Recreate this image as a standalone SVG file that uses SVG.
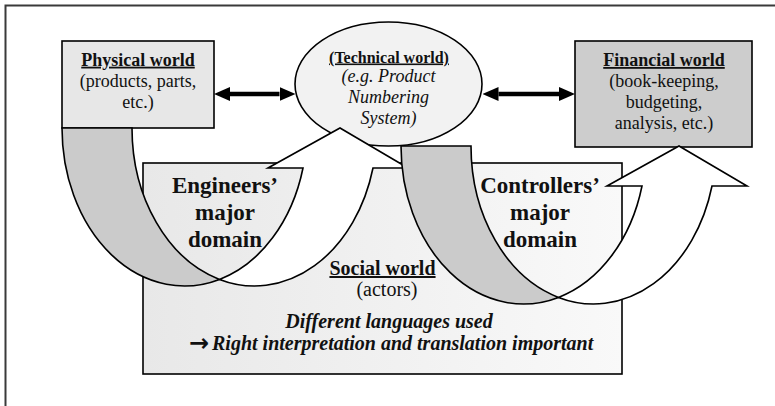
<svg xmlns="http://www.w3.org/2000/svg" width="775" height="406" viewBox="0 0 775 406">
  <defs>
    <linearGradient id="socialFill" x1="0" y1="0" x2="1" y2="0">
      <stop offset="0" stop-color="#e8e8e8"/>
      <stop offset="1" stop-color="#f9f9f9"/>
    </linearGradient>
    <marker id="head" viewBox="0 0 16 14" refX="0" refY="7" markerWidth="16" markerHeight="14" markerUnits="userSpaceOnUse" orient="auto-start-reverse">
      <path d="M0,0 L16,7 L0,14 Z" fill="#000"/>
    </marker>
    <style>
      .shape { stroke: #000; stroke-width: 1.6; stroke-linejoin: miter; }
      .back { fill: #cbcbcb; }
      .front { fill: #ffffff; }
      .t { font-family: "Liberation Serif", "Times New Roman", serif; fill: #111; text-anchor: middle; }
      .left { text-anchor: start; }
      .box { font-size: 18px; }
      .title { font-weight: bold; text-decoration: underline; }
      .it { font-style: italic; }
      .bi { font-style: italic; font-weight: bold; }
      .domain { font-size: 23px; font-weight: bold; }
      .social { font-size: 20px; }
      .sym { font-family: "DejaVu Sans", sans-serif; font-weight: bold; font-size: 24px; fill: #111; text-anchor: start; }
      .conn { stroke: #000; stroke-width: 4.3; fill: none; marker-start: url(#head); marker-end: url(#head); }
    </style>
  </defs>

  <rect width="775" height="406" fill="#ffffff"/>

  <!-- outer frame (top and left edges) -->
  <path d="M5.5,406 V5.5 H775" fill="none" stroke="#3a3a3a" stroke-width="2"/>

  <!-- social world box, behind the two curved arrows -->
  <g id="social-world">
    <rect class="shape" x="143" y="163" width="479" height="211" fill="url(#socialFill)"/>
    <text class="t social title" x="382.5" y="275">Social world</text>
    <text class="t social" x="387" y="296">(actors)</text>
    <text class="t social bi" x="389" y="328">Different languages used</text>
    <text class="sym" x="189" y="351">→</text>
    <text class="t social bi left" x="212" y="350">Right interpretation and translation important</text>
  </g>

  <g id="physical-world">
    <rect class="shape" x="62" y="41" width="152" height="87" fill="#e7e7e7"/>
    <text class="t box title" x="138" y="65.7">Physical world</text>
    <text class="t box" x="138" y="87.3">(products, parts,</text>
    <text class="t box" x="138" y="108.3">etc.)</text>
  </g>

  <g id="financial-world">
    <rect class="shape" x="575" y="41" width="177" height="106" fill="#cdcdcd"/>
    <text class="t box title" x="664" y="66">Financial world</text>
    <text class="t box" x="664" y="87">(book-keeping,</text>
    <text class="t box" x="664" y="108">budgeting,</text>
    <text class="t box" x="664" y="129">analysis, etc.)</text>
  </g>

  <g id="technical-world">
    <ellipse class="shape" cx="388.5" cy="84" rx="93.5" ry="62" fill="#f2f2f2"/>
    <text class="t title" font-size="16px" x="389" y="62.5">(Technical world)</text>
    <text class="t box it" x="388.5" y="82">(e.g. Product</text>
    <text class="t box it" x="388.5" y="103">Numbering</text>
    <text class="t box it" x="388.5" y="124">System)</text>
  </g>

  <!-- curved arrow from the physical world up to the technical world -->
  <g id="engineers-domain">
    <path class="shape back" d="M62,128 A122.5,158 0 0 0 219.5,279.4 A122.5,158 0 0 1 132,128 Z"/>
    <path class="shape front" d="M219.5,279.4 A122.5,158 0 0 0 373,168 L408,168 L340,128 L268,168 L303,168 A122.5,158 0 0 1 219.5,279.4 Z"/>
    <text class="t domain" x="225" y="193.3">Engineers’</text>
    <text class="t domain" x="225" y="220">major</text>
    <text class="t domain" x="225" y="246.7">domain</text>
  </g>

  <!-- curved arrow from the technical world up to the financial world -->
  <g id="controllers-domain">
    <path class="shape back" d="M401,146 A122.5,158 0 0 0 558.5,297.4 A122.5,158 0 0 1 471,146 Z"/>
    <path class="shape front" d="M558.5,297.4 A122.5,158 0 0 0 712,186 L747,186 L679,146 L607,186 L642,186 A122.5,158 0 0 1 558.5,297.4 Z"/>
    <text class="t domain" x="540" y="193.3">Controllers’</text>
    <text class="t domain" x="540" y="220">major</text>
    <text class="t domain" x="540" y="246.7">domain</text>
  </g>

  <!-- two-way links between the worlds -->
  <g id="connectors">
    <line class="conn" x1="230" y1="94" x2="279.5" y2="94"/>
    <line class="conn" x1="498.5" y1="94" x2="559" y2="94"/>
  </g>
</svg>
